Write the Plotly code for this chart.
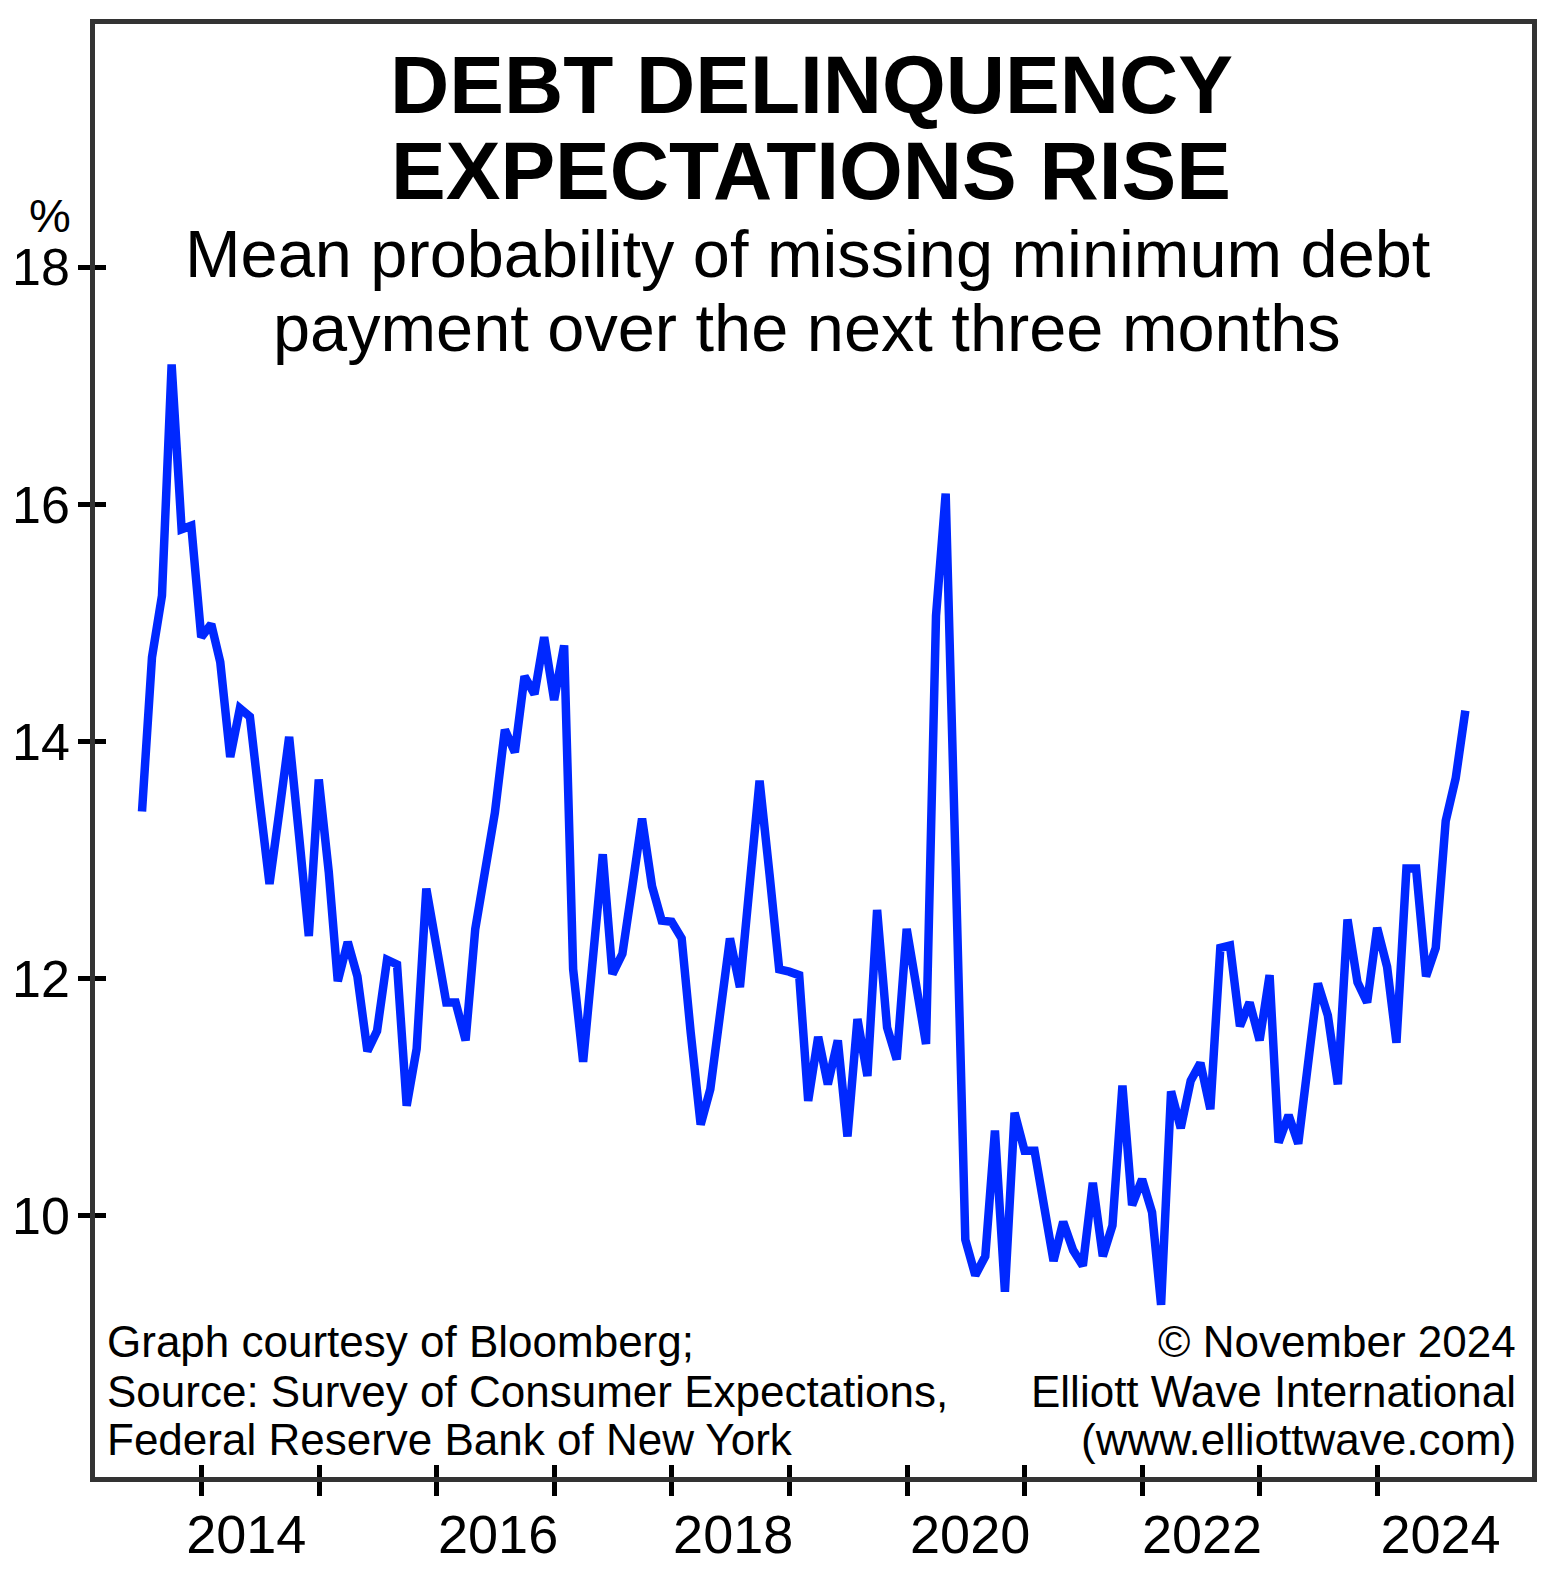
import pandas as pd
import plotly.graph_objects as go

# ---------------- data ----------------
values = [
    13.41, 14.71, 15.23, 17.18, 15.79, 15.82, 14.88, 14.99, 14.67, 13.87,
    14.28, 14.21, 13.50, 12.80, 13.42, 14.04, 13.20, 12.36, 13.68, 12.90,
    11.98, 12.31, 12.02, 11.39, 11.56, 12.16, 12.12, 10.93, 11.41, 12.76,
    12.28, 11.80, 11.80, 11.48, 12.42, 12.91, 13.40, 14.10, 13.91, 14.55,
    14.40, 14.88, 14.35, 14.81, 12.08, 11.30, 12.18, 13.05, 12.04, 12.21,
    12.78, 13.35, 12.78, 12.49, 12.48, 12.34, 11.55, 10.77, 11.07, 11.70,
    12.34, 11.93, 12.80, 13.67, 12.88, 12.08, 12.06, 12.03, 10.97, 11.51,
    11.11, 11.48, 10.67, 11.66, 11.18, 12.58, 11.59, 11.32, 12.42, 11.93,
    11.45, 15.06, 16.09, 12.95, 9.80, 9.50, 9.66, 10.72, 9.36, 10.87,
    10.55, 10.55, 10.08, 9.62, 9.95, 9.71, 9.58, 10.28, 9.66, 9.92,
    11.10, 10.09, 10.31, 10.03, 9.25, 11.05, 10.74, 11.14, 11.29, 10.90,
    12.26, 12.28, 11.60, 11.80, 11.48, 12.03, 10.62, 10.85, 10.61, 11.28,
    11.96, 11.69, 11.11, 12.50, 11.97, 11.80, 12.43, 12.10, 11.46, 12.93,
    12.93, 12.02, 12.26, 13.33, 13.69, 14.26,
]
first_month = "2013-06-01"
dates = pd.date_range(first_month, periods=len(values), freq="MS") + pd.offsets.MonthEnd(0)

y_ticks = [10, 12, 14, 16, 18]
year_ticks = [f"{y}-01-01" for y in range(2014, 2025)]
label_years = ["2014", "2016", "2018", "2020", "2022", "2024"]
label_dates = ["2014-05-20", "2016-07-10", "2018-07-10", "2020-07-15", "2022-07-05", "2024-07-15"]

title_lines = ["<b>DEBT DELINQUENCY</b>", "<b>EXPECTATIONS RISE</b>"]
subtitle_lines = ["Mean probability of missing minimum debt",
                  "payment over the next three months"]
source_lines = ["Graph courtesy of Bloomberg;",
                "Source: Survey of Consumer Expectations,",
                "Federal Reserve Bank of New York"]
credit_lines = ["© November 2024", "Elliott Wave International", "(www.elliottwave.com)"]

# ---------------- styling ----------------
FONT = "Liberation Sans, Arial, Helvetica, sans-serif"
W, H = 1554, 1576
ML, MR, MT, MB = 91, 22, 24, 98
PW, PH = W - ML - MR, H - MT - MB
BORDER = "#333333"
BLUE = "#0028FF"
x_range = ["2013-02-04", "2025-04-25"]
y_range = [7.799, 20.05]


def px_x(px):
    return (px - ML) / PW


def px_y(py):
    return (H - MB - py) / PH


fig = go.Figure()
fig.add_trace(go.Scatter(x=dates, y=values, mode="lines",
                         line=dict(color=BLUE, width=8.5), hoverinfo="skip",
                         showlegend=False))
# helper (invisible) traces so the overlaid tick/label axes are drawn
fig.add_trace(go.Scatter(x=[dates[0]], y=[values[0]], xaxis="x2", yaxis="y2",
                         mode="markers", marker=dict(opacity=0), hoverinfo="skip",
                         showlegend=False))
fig.add_trace(go.Scatter(x=[dates[0]], y=[values[0]], xaxis="x3", yaxis="y",
                         mode="markers", marker=dict(opacity=0), hoverinfo="skip",
                         showlegend=False))

common_x = dict(type="date", range=x_range, showgrid=False, zeroline=False)
fig.update_layout(
    width=W, height=H,
    margin=dict(l=ML, r=MR, t=MT, b=MB, pad=0),
    paper_bgcolor="white", plot_bgcolor="white",
    font=dict(family=FONT, color="black"),
    hovermode=False,
    xaxis=dict(**common_x, showline=True, linewidth=5, linecolor=BORDER, mirror=True,
               ticks="outside", ticklen=14, tickwidth=5, tickcolor="black",
               tickvals=year_ticks, showticklabels=False),
    xaxis2=dict(**common_x, overlaying="x", anchor="y", showline=False,
                ticks="inside", ticklen=12, tickwidth=5, tickcolor="black",
                tickvals=year_ticks, showticklabels=False),
    xaxis3=dict(**common_x, overlaying="x", anchor="y", showline=False, ticks="",
                tickvals=label_dates, ticktext=label_years,
                tickfont=dict(size=54, family=FONT, color="black"),
                ticklabelstandoff=21),
    yaxis=dict(range=y_range, showgrid=False, zeroline=False,
               showline=True, linewidth=4.5, linecolor=BORDER, mirror=True,
               ticks="outside", ticklen=12, tickwidth=5, tickcolor="black",
               tickvals=y_ticks, ticktext=[str(v) for v in y_ticks],
               tickfont=dict(size=52, family=FONT, color="black"),
               ticklabelstandoff=-2),
    yaxis2=dict(range=y_range, overlaying="y", anchor="x", side="left",
                showgrid=False, zeroline=False, showline=False,
                ticks="inside", ticklen=11, tickwidth=5, tickcolor="black",
                tickvals=y_ticks, showticklabels=False),
)

ann = []
# title (bold) lines
for txt, base in zip(title_lines, [112.6, 199.0]):
    F = 82
    ann.append(dict(text=txt, x=px_x(809), y=px_y(base - 0.3465 * F), xref="paper", yref="paper",
                    xanchor="center", yanchor="middle", showarrow=False,
                    font=dict(size=F, family=FONT, color="black")))
for txt, base, cx in zip(subtitle_lines, [277.0, 351.5], [806.0, 805.0]):
    F = 66.7
    ann.append(dict(text=txt, x=px_x(cx), y=px_y(base - 0.3465 * F), xref="paper", yref="paper",
                    xanchor="center", yanchor="middle", showarrow=False,
                    font=dict(size=F, family=FONT, color="black")))
for txt, base in zip(source_lines, [1358.0, 1407.3, 1455.6]):
    F = 44
    ann.append(dict(text=txt, x=px_x(101), y=px_y(base - 0.3465 * F), xref="paper", yref="paper",
                    xanchor="left", yanchor="middle", showarrow=False,
                    font=dict(size=F, family=FONT, color="black")))
for txt, base in zip(credit_lines, [1358.0, 1407.3, 1455.6]):
    F = 44
    ann.append(dict(text=txt, x=px_x(1518), y=px_y(base - 0.3465 * F), xref="paper", yref="paper",
                    xanchor="right", yanchor="middle", showarrow=False,
                    font=dict(size=F, family=FONT, color="black")))
# % unit label
ann.append(dict(text="%", x=px_x(46), y=px_y(232 - 0.3465 * 47), xref="paper", yref="paper",
                xanchor="center", yanchor="middle", showarrow=False,
                font=dict(size=47, family=FONT, color="black")))
fig.update_layout(annotations=ann)

fig.write_html("out.html")
